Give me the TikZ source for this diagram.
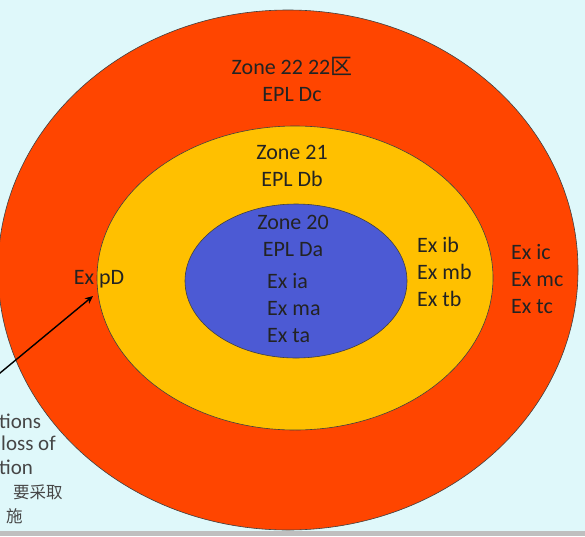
\documentclass[tikz,border=0pt]{standalone}
\usepackage{fontspec}
\setmainfont{Carlito}
\newfontfamily\cjk{Noto Sans CJK SC}
\usetikzlibrary{arrows.meta}
\definecolor{bgc}{RGB}{223,248,250}
\definecolor{zonered}{RGB}{255,69,0}
\definecolor{zoneyel}{RGB}{255,192,0}
\definecolor{zoneblue}{RGB}{76,90,212}
\definecolor{txt}{RGB}{35,35,35}
\definecolor{sidetxt}{RGB}{70,70,70}
\begin{document}
\begin{tikzpicture}[x=1pt,y=-1pt,
  zone/.style={draw=black!75,line width=0.6pt},
  lbl/.style={text=txt,font=\fontsize{22}{27}\selectfont,inner sep=0pt},
  side/.style={text=sidetxt,font=\fontsize{21}{24}\selectfont,inner sep=0pt,anchor=west},
  sidecjk/.style={side,font=\cjk\fontsize{16.5}{20}\selectfont}]
\useasboundingbox (0,0) rectangle (585,536);
\clip (0,0) rectangle (585,536);
\fill[bgc] (0,0) rectangle (585,536);
\fill[gray!50] (0,531) rectangle (585,536);
% zones
\filldraw[zone,fill=zonered] (288,270) ellipse [x radius=290,y radius=260];
\filldraw[zone,fill=zoneyel] (295,278) ellipse [x radius=198,y radius=152];
\filldraw[zone,fill=zoneblue] (296,281) ellipse [x radius=111,y radius=77];
% labels
\node[lbl,align=center] (z22) at (292,79) {Zone 22 22{\cjk 区}\\EPL Dc};
\node[lbl,align=center] (z21) at (292,166) {Zone 21\\EPL Db};
\node[lbl,align=center] (z20) at (293,236) {Zone 20\\EPL Da};
\node[lbl,align=left,anchor=west] (exa) at (267,308) {Ex ia\\Ex ma\\Ex ta};
\node[lbl,align=left,anchor=west] (exb) at (417,272) {Ex ib\\Ex mb\\Ex tb};
\node[lbl,align=left,anchor=west] (exc) at (511,279) {Ex ic\\Ex mc\\Ex tc};
\node[lbl] (pd) at (99,279) {Ex pD};
% side text (cut at left edge)
\node[side] (s1) at (-1,421) {tions};
\node[side] (s2) at (1,443) {loss of};
\node[side] (s3) at (-1,467) {tion};
\node[sidecjk] (s4) at (13,492) {要采取};
\node[sidecjk] (s5) at (6,516) {施};
% arrow
\coordinate (astart) at (-6,378);
\coordinate (atip) at (93,296);
\draw[line width=1.4pt,black,-{Stealth[length=8pt,width=7pt]}] (astart) -- (atip);
\end{tikzpicture}
\end{document}
